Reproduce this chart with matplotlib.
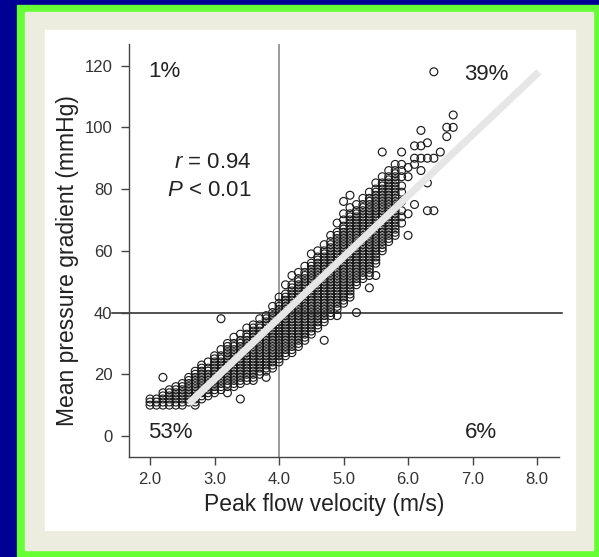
import matplotlib
matplotlib.use("Agg")
import matplotlib.pyplot as plt
from matplotlib.patches import Rectangle

plt.rcParams["font.family"] = ["Liberation Sans", "DejaVu Sans"]
plt.rcParams["mathtext.fontset"] = "custom"
plt.rcParams["mathtext.rm"] = "Liberation Sans"
plt.rcParams["mathtext.it"] = "Liberation Sans:italic"

# velocity columns (m/s) and the gradients (mmHg) read in each column of the cloud
velocity = [2.0, 2.1, 2.2, 2.3, 2.4, 2.5, 2.6, 2.7, 2.8, 2.9,
            3.0, 3.1, 3.2, 3.3, 3.4, 3.5, 3.6, 3.7, 3.8, 3.9,
            4.0, 4.1, 4.2, 4.3, 4.4, 4.5, 4.6, 4.7, 4.8, 4.9,
            5.0, 5.1, 5.2, 5.3, 5.4, 5.5, 5.6, 5.7, 5.8, 5.9]
gradient = [
    [10, 11, 12],
    [10, 11, 12],
    [10, 11, 12, 13, 14],
    [10, 11, 12, 13, 14, 15],
    [10, 11, 12, 13, 14, 15, 16],
    [10, 11, 12, 13, 14, 15, 16, 17],
    [11, 12, 13, 14, 15, 16, 17, 18, 19],
    [11, 12, 13, 14, 15, 16, 17, 18, 19, 20, 21],
    [12, 13, 14, 15, 16, 17, 18, 19, 20, 21, 22, 23],
    [13, 14, 15, 16, 17, 18, 19, 20, 21, 22, 24],
    [14, 15, 16, 17, 18, 19, 20, 21, 22, 23, 24, 25, 26],
    [15, 16, 17, 18, 19, 20, 21, 22, 23, 24, 25, 26, 28],
    [16, 17, 18, 19, 20, 21, 22, 23, 24, 25, 26, 27, 28, 29, 30],
    [16, 17, 18, 19, 20, 21, 22, 23, 24, 25, 26, 27, 28, 29, 30, 32],
    [17, 18, 19, 20, 21, 22, 23, 24, 25, 26, 27, 28, 29, 30, 31, 33],
    [18, 19, 20, 21, 22, 23, 24, 25, 26, 27, 28, 29, 30, 31, 32, 33, 35],
    [19, 20, 21, 22, 23, 24, 25, 26, 27, 28, 29, 30, 31, 32, 33, 34, 35, 36],
    [20, 21, 22, 23, 24, 25, 26, 27, 28, 29, 30, 31, 32, 33, 34, 35, 36, 38],
    [21, 22, 23, 24, 25, 26, 27, 28, 29, 30, 31, 32, 33, 34, 35, 36, 37, 38, 39],
    [22, 23, 24, 25, 26, 27, 28, 29, 30, 31, 32, 33, 34, 35, 36, 37, 38, 39, 40, 42],
    [24, 25, 26, 27, 28, 29, 30, 31, 32, 33, 34, 35, 36, 37, 38, 39, 40, 41, 42, 43, 45],
    [26, 27, 28, 29, 30, 31, 32, 33, 34, 35, 36, 37, 38, 39, 40, 41, 42, 43, 44, 45, 46, 49],
    [27, 28, 29, 30, 31, 32, 33, 34, 35, 36, 37, 38, 39, 40, 41, 42, 43, 44, 45, 46, 47, 48, 49, 52],
    [29, 30, 31, 32, 33, 34, 35, 36, 37, 38, 39, 40, 41, 42, 43, 44, 45, 46, 47, 48, 49, 50, 51, 53],
    [31, 32, 33, 34, 35, 36, 37, 38, 39, 40, 41, 42, 43, 44, 45, 46, 47, 48, 49, 50, 51, 52, 53, 55],
    [33, 34, 35, 36, 37, 38, 39, 40, 41, 42, 43, 44, 45, 46, 47, 48, 49, 50, 51, 52, 53, 54, 55, 56, 59],
    [35, 36, 37, 38, 39, 40, 41, 42, 43, 44, 45, 46, 47, 48, 49, 50, 51, 52, 53, 54, 55, 56, 57, 58, 60],
    [37, 38, 39, 40, 41, 42, 43, 44, 45, 46, 47, 48, 49, 50, 51, 52, 53, 54, 55, 56, 57, 58, 59, 60, 62],
    [39, 40, 41, 42, 43, 44, 45, 46, 47, 48, 49, 50, 51, 52, 53, 54, 55, 56, 57, 58, 59, 60, 61, 62, 63, 65],
    [41, 42, 43, 44, 45, 46, 47, 48, 49, 50, 51, 52, 53, 54, 55, 56, 57, 58, 59, 60, 61, 62, 63, 64, 65, 66, 69],
    [43, 44, 45, 46, 47, 48, 49, 50, 51, 52, 53, 54, 55, 56, 57, 58, 59, 60, 61, 62, 63, 64, 65, 66, 67, 68, 70, 72],
    [46, 47, 48, 49, 50, 51, 52, 53, 54, 55, 56, 57, 58, 59, 60, 61, 62, 63, 64, 65, 66, 67, 68, 69, 70, 71, 72, 74],
    [49, 50, 51, 52, 53, 54, 55, 56, 57, 58, 59, 60, 61, 62, 63, 64, 65, 66, 67, 68, 69, 70, 71, 72, 73, 75],
    [51, 52, 53, 54, 55, 56, 57, 58, 59, 60, 61, 62, 63, 64, 65, 66, 67, 68, 69, 70, 71, 72, 73, 74, 75, 77],
    [53, 54, 55, 56, 57, 58, 59, 60, 61, 62, 63, 64, 65, 66, 67, 68, 69, 70, 71, 72, 73, 74, 75, 76, 77, 79],
    [56, 57, 58, 59, 60, 61, 62, 63, 64, 65, 66, 67, 68, 69, 70, 71, 72, 73, 74, 75, 76, 77, 78, 79, 80, 82],
    [60, 61, 62, 63, 64, 65, 66, 67, 68, 69, 70, 71, 72, 73, 74, 75, 76, 77, 78, 79, 80, 81, 82, 84],
    [63, 64, 65, 66, 67, 68, 69, 70, 71, 72, 73, 74, 75, 76, 77, 78, 79, 80, 81, 82, 83, 84, 86],
    [65, 66, 67, 68, 69, 70, 71, 72, 73, 74, 75, 76, 77, 78, 79, 80, 81, 82, 83, 84, 85, 86, 88],
    [69, 71, 73, 76, 79, 81, 84, 86],
]

# scattered patients away from the main band
outlier_v = [2.2, 2.7, 3.1, 3.2, 3.4, 3.6, 3.8, 4.7, 4.9, 5.1, 5.2, 5.4, 5.4, 5.5,
             5.0, 5.1, 5.6, 5.9, 5.9, 6.0, 6.0, 6.0, 6.0, 6.1, 6.1, 6.1, 6.1,
             6.2, 6.2, 6.2, 6.2, 6.3, 6.3, 6.3, 6.3, 6.4, 6.4, 6.4, 6.5, 6.6,
             6.6, 6.7, 6.7]
outlier_g = [19, 10, 38, 14, 12, 18, 19, 31, 39, 45, 40, 48, 52, 52,
             76, 78, 92, 92, 88, 87, 72, 65, 84, 75, 94, 90, 88,
             99, 94, 90, 86, 95, 90, 82, 73, 90, 73, 118, 92, 100,
             97, 100, 104]

fit_v = [2.6, 8.03]
fit_g = [10.5, 118]

velocity_cut = 4.0
gradient_cut = 40

quadrant_labels = ["1%", "39%", "53%", "6%"]
quadrant_v = [1.97, 6.87, 1.97, 6.88]
quadrant_g = [118, 117, 1, 1.2]

xticks = [2.0, 3.0, 4.0, 5.0, 6.0, 7.0, 8.0]
yticks = [0, 20, 40, 60, 80, 100, 120]

W, H = 599, 557
fig = plt.figure(figsize=(W / 100, H / 100), dpi=100)
fig.patch.set_facecolor("#000094")

# frame: green border, grey panel, white card (behind the axes)
fig.patches.append(Rectangle((17 / W, 0), 1 - 17 / W, 552 / H,
                             transform=fig.transFigure, color="#66ff33", zorder=-3))
fig.patches.append(Rectangle((25 / W, 7 / H), 568 / W, 538 / H,
                             transform=fig.transFigure, color="#ececdf", zorder=-2))
fig.patches.append(Rectangle((45 / W, 27 / H), 530 / W, 500 / H,
                             transform=fig.transFigure, color="white", zorder=-1))

ax = fig.add_axes([129 / W, 100 / H, 430 / W, 413 / H])
ax.set_facecolor("none")

xs, ys = [], []
for v, col in zip(velocity, gradient):
    xs.extend([v] * len(col))
    ys.extend(col)
ax.scatter(xs, ys, s=32, facecolors="none", edgecolors="#1a1a1a",
           linewidths=0.8, zorder=2)
ax.scatter(outlier_v, outlier_g, s=32, facecolors="none",
           edgecolors="#1a1a1a", linewidths=0.85, zorder=2)

ax.plot(fit_v, fit_g, color="#e6e6e6", lw=5.2, solid_capstyle="butt", zorder=3)

ax.axvline(velocity_cut, color="#808080", lw=1.1, zorder=1)
ax.axhline(gradient_cut, xmin=-0.04, xmax=1.006, color="#222222", lw=1.1,
           clip_on=False, zorder=1)

ax.set_xlim(1.674, 8.34)
ax.set_ylim(-6.8, 127)
ax.set_xticks(xticks)
ax.set_xticklabels([f"{t:.1f}" for t in xticks])
ax.set_yticks(yticks)

for side in ["top", "right"]:
    ax.spines[side].set_visible(False)
for side in ["left", "bottom"]:
    ax.spines[side].set_color("#444444")
    ax.spines[side].set_linewidth(1.0)
ax.tick_params(axis="both", direction="out", length=6, width=1,
               color="#444444", labelsize=12, labelcolor="#333333")
ax.tick_params(axis="y", pad=6)
ax.tick_params(axis="x", pad=5)

ax.set_xlabel("Peak flow velocity (m/s)", fontsize=16.5, color="#222222", va="center")
ax.xaxis.set_label_coords(0.455, -0.114)
ax.set_ylabel("Mean pressure gradient (mmHg)", fontsize=16.5, color="#222222", va="center")
ax.yaxis.set_label_coords(-0.143, 0.476)

for lab, qv, qg in zip(quadrant_labels, quadrant_v, quadrant_g):
    ax.text(qv, qg, lab, fontsize=16, color="#222222", ha="left", va="center")

ax.text(3.57, 88.5, r"$r$ = 0.94", fontsize=16, color="#222222", ha="right", va="center")
ax.text(3.57, 79.7, r"$P$ < 0.01", fontsize=16, color="#222222", ha="right", va="center")

fig.savefig("out.png", dpi=100, facecolor=fig.get_facecolor())
